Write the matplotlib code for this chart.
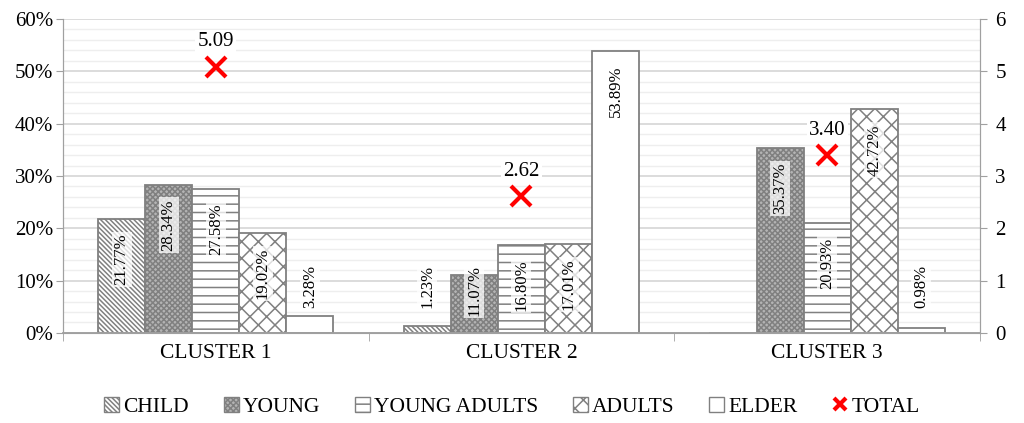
import numpy as np
import matplotlib
matplotlib.use('Agg')
import matplotlib.pyplot as plt
from matplotlib.patches import Patch
from matplotlib.lines import Line2D
from matplotlib.ticker import MultipleLocator, FuncFormatter

plt.rcParams['font.family'] = ['Liberation Serif', 'DejaVu Serif']
plt.rcParams['hatch.linewidth'] = 1.1

clusters = ['CLUSTER 1', 'CLUSTER 2', 'CLUSTER 3']
groups = ['CHILD', 'YOUNG', 'YOUNG ADULTS', 'ADULTS', 'ELDER']
child = [21.77, 1.23, 0.0]
young = [28.34, 11.07, 35.37]
young_adults = [27.58, 16.80, 20.93]
adults = [19.02, 17.01, 42.72]
elder = [3.28, 53.89, 0.98]
total = [5.09, 2.62, 3.40]

series = [child, young, young_adults, adults, elder]
# (facecolor, hatch) per group
styles = [('white', '\\' * 7), ('#b4b4b4', 'xxxxxx'), ('white', '--'),
          ('white', 'xx'), ('white', '')]
edge = '#808080'

fig = plt.figure(figsize=(10.24, 4.23), dpi=100)
ax = fig.add_axes([0.0615, 0.213, 0.8955, 0.742])
ax2 = ax.twinx()

x = np.arange(len(clusters))
w = 0.154
for i, vals in enumerate(series):
    fc, h = styles[i]
    pos = x + (i - 2) * w
    ax.bar(pos, vals, width=w, facecolor=fc, edgecolor=edge, hatch=h,
           linewidth=1.3, zorder=2)
    for xp, v in zip(pos, vals):
        if v <= 0:
            continue
        ytop = max(v - 2.8, 13.0)
        ax.text(xp, ytop, f'{v:.2f}%', rotation=90, ha='center', va='top',
                fontsize=12, zorder=4,
                bbox=dict(boxstyle='square,pad=0.12', fc='white', ec='none', alpha=0.75))

ax.set_xlim(-0.5, 2.5)
ax.set_ylim(0, 60)
ax.yaxis.set_major_locator(MultipleLocator(10))
ax.yaxis.set_minor_locator(MultipleLocator(2))
ax.yaxis.set_major_formatter(FuncFormatter(lambda v, p: f'{v:.0f}%'))
ax.grid(axis='y', which='major', color='#d9d9d9', lw=1.3, zorder=0)
ax.grid(axis='y', which='minor', color='#eeeeee', lw=1.0, zorder=0)
ax.set_axisbelow(True)
ax.tick_params(axis='y', which='minor', length=0)
ax.tick_params(axis='y', which='major', labelsize=15, length=5, color='#a0a0a0', pad=2)

ax.set_xticks(x)
ax.set_xticklabels(clusters, fontsize=15.5)
ax.tick_params(axis='x', which='major', length=0, pad=8)
ax.set_xticks([-0.5, 0.5, 1.5, 2.5], minor=True)
ax.tick_params(axis='x', which='minor', length=6, color='#a0a0a0')

for s in ['left', 'right', 'bottom']:
    ax.spines[s].set_color('#a0a0a0')
    ax2.spines[s].set_color('#a0a0a0')
ax.spines['top'].set_visible(False)
ax2.spines['top'].set_visible(False)
ax.spines['bottom'].set_linewidth(1.3)

ax2.plot(x, total, linestyle='none', marker='x', color='#ff0000',
         markersize=14, markeredgewidth=3, zorder=5)
for xp, v in zip(x, total):
    ax2.annotate(f'{v:.2f}', (xp, v), xytext=(0, 11), textcoords='offset points',
                 ha='center', va='bottom', fontsize=15,
                 bbox=dict(boxstyle='square,pad=0.1', fc='white', ec='none'))
ax2.set_ylim(0, 6)
ax2.yaxis.set_major_locator(MultipleLocator(1))
ax2.tick_params(axis='y', labelsize=15, length=5, color='#a0a0a0', pad=6)

handles = []
for g, (fc, h) in zip(groups, styles):
    handles.append(Patch(facecolor=fc, edgecolor=edge, hatch=h, linewidth=1.0, label=g))
handles.append(Line2D([], [], linestyle='none', marker='x', color='#ff0000',
                      markersize=9, markeredgewidth=3, label='TOTAL'))
fig.legend(handles=handles, loc='center', bbox_to_anchor=(0.5, 0.038), ncol=6,
           frameon=False, fontsize=15.5, handlelength=0.7, handleheight=0.7,
           handletextpad=0.2, columnspacing=1.6)

fig.savefig('out.png', dpi=100)
